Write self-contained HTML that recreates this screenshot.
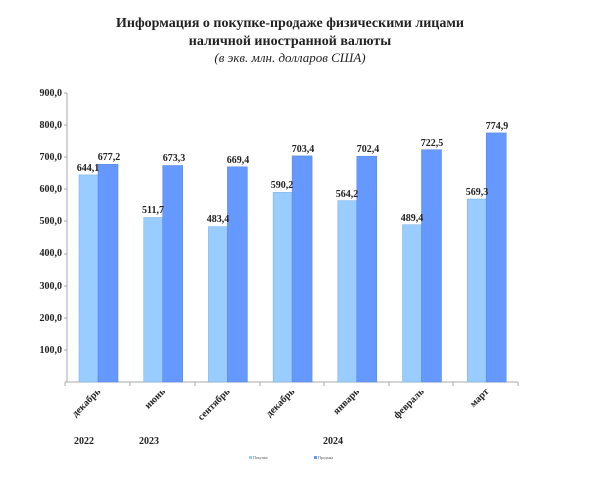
<!DOCTYPE html>
<html><head><meta charset="utf-8"><style>
body{margin:0;background:#fff;}
svg text{font-family:"Liberation Serif",serif;}
</style></head><body>
<svg width="600" height="474" viewBox="0 0 600 474" xmlns="http://www.w3.org/2000/svg">
<text x="290" y="27" text-anchor="middle" font-size="14" font-weight="bold" fill="#222">Информация о покупке-продаже физическими лицами</text>
<text x="290" y="45" text-anchor="middle" font-size="14" font-weight="bold" fill="#222">наличной иностранной валюты</text>
<text x="290" y="62" text-anchor="middle" font-size="13" font-style="italic" fill="#222">(в экв. млн. долларов США)</text>
<g font-size="10" font-weight="bold" fill="#222" text-anchor="end">
<text x="62" y="96">900,0</text><text x="62" y="128">800,0</text><text x="62" y="160">700,0</text><text x="62" y="192">600,0</text><text x="62" y="224">500,0</text><text x="62" y="256">400,0</text><text x="62" y="289">300,0</text><text x="62" y="321">200,0</text><text x="62" y="353">100,0</text>
</g>
<line x1="67" y1="93" x2="67" y2="382" stroke="#aaa"/>
<line x1="65" y1="382" x2="518" y2="382" stroke="#aaa"/>
<g stroke="#aaa">
<line x1="65" y1="382" x2="65" y2="386"/><line x1="130" y1="382" x2="130" y2="386"/><line x1="195" y1="382" x2="195" y2="386"/><line x1="260" y1="382" x2="260" y2="386"/><line x1="324" y1="382" x2="324" y2="386"/><line x1="389" y1="382" x2="389" y2="386"/><line x1="453" y1="382" x2="453" y2="386"/><line x1="518" y1="382" x2="518" y2="386"/>
<line x1="64" y1="93" x2="67" y2="93"/><line x1="64" y1="125" x2="67" y2="125"/><line x1="64" y1="157" x2="67" y2="157"/><line x1="64" y1="189" x2="67" y2="189"/><line x1="64" y1="221" x2="67" y2="221"/><line x1="64" y1="254" x2="67" y2="254"/><line x1="64" y1="286" x2="67" y2="286"/><line x1="64" y1="318" x2="67" y2="318"/><line x1="64" y1="350" x2="67" y2="350"/>
</g>
<g fill="#99ccff" stroke="#7aaee0" stroke-width="0.5">
<rect x="79" y="174.9" width="19" height="207.1"/>
<rect x="143.7" y="217.5" width="19" height="164.5"/>
<rect x="208.4" y="226.6" width="19" height="155.4"/>
<rect x="273.1" y="192.3" width="19" height="189.7"/>
<rect x="337.8" y="200.6" width="19" height="181.4"/>
<rect x="402.5" y="224.7" width="19" height="157.3"/>
<rect x="467.2" y="199" width="19" height="183"/>
</g>
<g fill="#6699ff" stroke="#5580e0" stroke-width="0.5">
<rect x="98" y="164.3" width="20" height="217.7"/>
<rect x="162.7" y="165.5" width="20" height="216.5"/>
<rect x="227.4" y="166.8" width="20" height="215.2"/>
<rect x="292.1" y="155.9" width="20" height="226.1"/>
<rect x="356.8" y="156.2" width="20" height="225.8"/>
<rect x="421.5" y="149.7" width="20" height="232.3"/>
<rect x="486.2" y="132.9" width="20" height="249.1"/>
</g>
<g font-size="10" font-weight="bold" fill="#222" text-anchor="middle">
<text x="88" y="171">644,1</text><text x="109" y="160">677,2</text>
<text x="153" y="213">511,7</text><text x="174" y="161">673,3</text>
<text x="218" y="222">483,4</text><text x="238" y="163">669,4</text>
<text x="282" y="188">590,2</text><text x="303" y="152">703,4</text>
<text x="347" y="197">564,2</text><text x="368" y="152">702,4</text>
<text x="412" y="221">489,4</text><text x="432" y="146">722,5</text>
<text x="477" y="195">569,3</text><text x="497" y="129">774,9</text>
</g>
<g font-size="10" font-weight="bold" fill="#222" text-anchor="end">
<text transform="translate(101,392) rotate(-45)">декабрь</text>
<text transform="translate(165.7,392) rotate(-45)">июнь</text>
<text transform="translate(230.4,392) rotate(-45)">сентябрь</text>
<text transform="translate(295.1,392) rotate(-45)">декабрь</text>
<text transform="translate(359.8,392) rotate(-45)">январь</text>
<text transform="translate(424.5,392) rotate(-45)">февраль</text>
<text transform="translate(489.2,392) rotate(-45)">март</text>
</g>
<g font-size="10" font-weight="bold" fill="#222">
<text x="74" y="444">2022</text><text x="139" y="444">2023</text><text x="323" y="444">2024</text>
</g>
<rect x="249" y="456" width="3" height="3" fill="#99ccff"/><text x="253" y="459" font-size="4" fill="#555">Покупка</text>
<rect x="314" y="456" width="3" height="3" fill="#6699ff"/><text x="318" y="459" font-size="4" fill="#555">Продажа</text>
</svg>
</body></html>
